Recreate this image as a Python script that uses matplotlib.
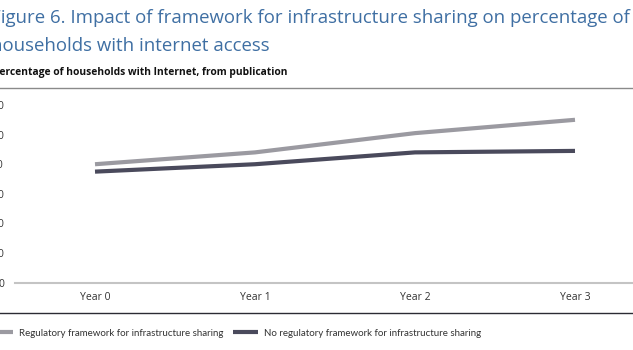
import matplotlib
matplotlib.use("Agg")
import matplotlib.pyplot as plt
from matplotlib.lines import Line2D

# Data
years = ["Year 0", "Year 1", "Year 2", "Year 3"]
with_sharing = [40, 44, 50.5, 55]
without_sharing = [37.5, 40, 44, 44.5]
y_ticks = [0, 10, 20, 30, 40, 50, 60]

series_labels = [
    "Regulatory framework for infrastructure sharing",
    "No regulatory framework for infrastructure sharing",
]
title = ("Figure 6. Impact of framework for infrastructure sharing on percentage of\n"
         "households with internet access")
subtitle = "Percentage of households with Internet, from publication"

W, H = 633, 350
fig = plt.figure(figsize=(W / 100, H / 100), dpi=100)
fig.patch.set_facecolor("white")

def fx(px):
    return px / W

def fy(py):
    return 1 - py / H

light = "#9b9aa1"
dark = "#4a4a5c"
blue = "#3f6fa3"

ax = fig.add_axes([fx(15), fy(282.7), fx(W - 15), fy(105) - fy(282.7)])
x = list(range(len(years)))
l1, = ax.plot(x, with_sharing, color=light, lw=3.0, solid_capstyle="butt", clip_on=False)
l2, = ax.plot(x, without_sharing, color=dark, lw=3.0, solid_capstyle="butt", clip_on=False)

ax.set_xlim(-0.5, 3.3625)
ax.set_ylim(0, 60)
ax.set_yticks(y_ticks)
ax.set_yticklabels([str(v) for v in y_ticks])
ax.set_xticks(x)
ax.set_xticklabels(years)
for s in ["top", "right", "left"]:
    ax.spines[s].set_visible(False)
ax.spines["bottom"].set_color("#c4c4c4")
ax.spines["bottom"].set_linewidth(1.5)
ax.tick_params(axis="both", length=0, labelsize=7.5, colors="#333333")
ax.tick_params(axis="y", pad=8)
ax.tick_params(axis="x", pad=7)
for t in ax.get_xticklabels() + ax.get_yticklabels():
    t.set_fontfamily("Open Sans")

# Title block
fig.text(fx(-9), fy(9), title, ha="left", va="top", fontsize=13.4, color=blue,
         family="Open Sans", linespacing=1.72)
fig.text(fx(-7), fy(73), subtitle, ha="left", va="center", fontsize=7.4,
         fontweight="bold", color="#111111", family="Open Sans")
fig.add_artist(Line2D([0, 1], [fy(88), fy(88)], color="#8a8a8a", lw=1.0))

# Separator above legend
fig.add_artist(Line2D([0, 1], [fy(313), fy(313)], color="#2b2b33", lw=1.0))

# Legend
leg = fig.legend([l1, l2], series_labels, loc="center left",
                 bbox_to_anchor=(fx(-12), fy(333)), ncol=2, frameon=False,
                 handlelength=2.6, handletextpad=0.6, columnspacing=1.0,
                 borderaxespad=0, borderpad=0,
                 prop={"family": "Lato", "size": 7.0})
for t in leg.get_texts():
    t.set_color("#333333")

fig.savefig("out.png", dpi=100, facecolor="white")
